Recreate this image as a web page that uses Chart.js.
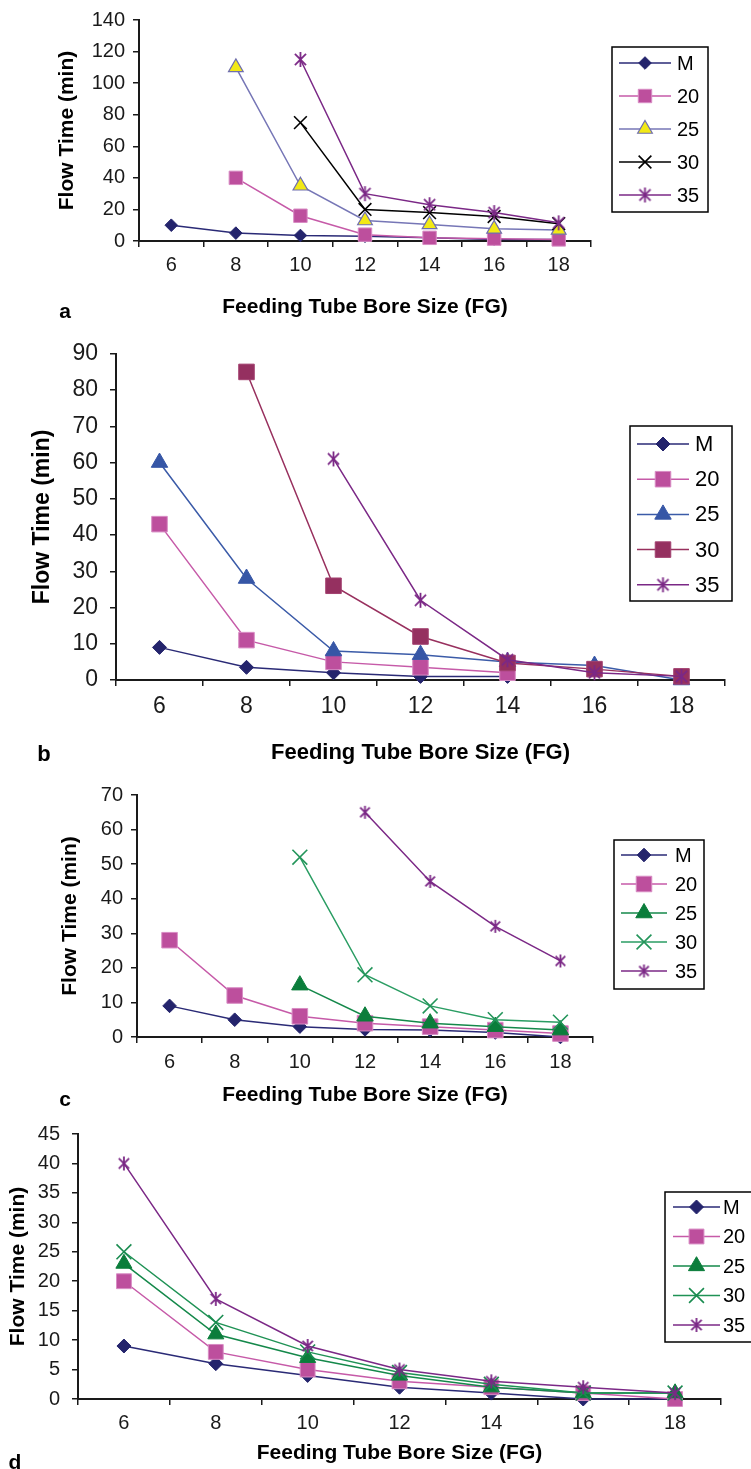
<!DOCTYPE html>
<html>
<head>
<meta charset="utf-8">
<script src="https://cdn.jsdelivr.net/npm/chart.js@4.4.1/dist/chart.umd.min.js"></script>
<style>
  body { margin: 0; background: #fff; }
  #wrap { position: relative; width: 751px; height: 1469px; overflow: hidden; }
  canvas { position: absolute; left: 0; }
</style>
</head>
<body>
<div id="wrap">
  <canvas id="panel-a" width="751" height="328" style="top:0px"></canvas>
  <canvas id="panel-b" width="751" height="447" style="top:328px"></canvas>
  <canvas id="panel-c" width="751" height="335" style="top:775px"></canvas>
  <canvas id="panel-d" width="751" height="359" style="top:1110px"></canvas>
</div>
<script>
// bore sizes on the x axis
const boreSizes = ['6', '8', '10', '12', '14', '16', '18'];
const seriesNames = ['M', '20', '25', '30', '35'];

// panel a
const aM  = [10, 5, 3.5, 3, 2, 1, 1];
const a20 = [null, 40, 16, 4, 2, 1.5, 1];
const a25 = [null, 110, 35, 13, 10.5, 7.7, 7];
const a30 = [null, null, 75, 20, 18, 15.5, 11];
const a35 = [null, null, 115, 30, 23, 18, 11.5];
// panel b
const bM  = [9, 3.5, 2, 1, 1, null, null];
const b20 = [43, 11, 5, 3.5, 2, null, null];
const b25 = [60, 28, 8, 7, 5, 4, 0];
const b30 = [null, 85, 26, 12, 4.7, 3, 1];
const b35 = [null, null, 61, 22, 5.6, 2, 1];
// panel c
const cM  = [9, 5, 3, 2.2, 2, 1.3, 0];
const c20 = [28, 12, 6, 4, 3, 2, 1];
const c25 = [null, null, 15, 6, 4, 3, 2];
const c30 = [null, null, 52, 18, 9, 5, 4.3];
const c35 = [null, null, null, 65, 45, 32, 22];
// panel d
const dM  = [9, 6, 4, 2, 1, 0, 0];
const d20 = [20, 8, 5, 3, 2, 1, 0];
const d25 = [23, 11, 7, 4, 2, 1, 1];
const d30 = [25, 13, 8, 4.5, 2.5, 1, 1];
const d35 = [40, 17, 9, 5, 3, 2, 1];

// y axis ranges (max, step)
const yMaxA = 140, yStepA = 20;
const yMaxB = 90,  yStepB = 10;
const yMaxC = 70,  yStepC = 10;
const yMaxD = 45,  yStepD = 5;

const FONT = "'Liberation Sans', Arial, Helvetica, sans-serif";
const INK = '#1a1a1a';

function starMarker(color, size) {
  const c = document.createElement('canvas');
  c.width = size; c.height = size;
  const g = c.getContext('2d');
  const m = size / 2, r = size / 2 - 1, k = r * 0.74;
  g.strokeStyle = color;
  g.lineWidth = 1.8;
  g.beginPath();
  g.moveTo(m - k, m - k); g.lineTo(m + k, m + k);
  g.moveTo(m + k, m - k); g.lineTo(m - k, m + k);
  g.moveTo(m, m - r); g.lineTo(m, m + r);
  g.stroke();
  return c;
}

// marker / line styles
const navy = (r) => ({ line: '#2a2a76', shape: 'rectRot', r, fill: '#24246c', edge: '#24246c', bw: 1 });
const pink = (r) => ({ line: '#c65aa8', shape: 'rect', r, fill: '#bd4f9d', edge: '#d88cc4', bw: 1 });
const purpleStar = (s) => ({ line: '#7b2886', shape: starMarker('#7b2886', s), r: s / 2, fill: '#7b2886', edge: '#7b2886', bw: 1.5 });

function series(label, data, st, i) {
  return {
    label, data,
    borderColor: st.line,
    borderWidth: 1.5,
    pointStyle: st.shape,
    pointRadius: st.r,
    pointHoverRadius: st.r,
    pointBackgroundColor: st.fill,
    pointBorderColor: st.edge,
    pointBorderWidth: st.bw,
    tension: 0,
    spanGaps: false,
    clip: false,
    order: 10 - i
  };
}

// legend drawn as a framed box with line + marker samples
const boxLegend = {
  id: 'boxLegend',
  afterDraw(chart, args, o) {
    const ctx = chart.ctx;
    ctx.save();
    ctx.strokeStyle = '#000';
    ctx.lineWidth = 1.5;
    ctx.strokeRect(o.x, o.y, o.w, o.h);
    chart.data.datasets.forEach((ds, i) => {
      const y = o.row0 + i * o.gap;
      ctx.strokeStyle = ds.borderColor;
      ctx.lineWidth = ds.borderWidth;
      ctx.beginPath();
      ctx.moveTo(o.x0, y);
      ctx.lineTo(o.x1, y);
      ctx.stroke();
      ctx.fillStyle = ds.pointBackgroundColor;
      ctx.strokeStyle = ds.pointBorderColor;
      ctx.lineWidth = ds.pointBorderWidth;
      Chart.helpers.drawPoint(ctx, {
        pointStyle: ds.pointStyle,
        radius: ds.pointRadius,
        borderWidth: ds.pointBorderWidth,
        rotation: 0
      }, (o.x0 + o.x1) / 2, y);
      ctx.fillStyle = '#000';
      ctx.font = o.font + 'px ' + FONT;
      ctx.textAlign = 'left';
      ctx.textBaseline = 'middle';
      ctx.fillText(ds.label, o.tx, y + 1);
    });
    ctx.restore();
  }
};

const panelTag = {
  id: 'panelTag',
  afterDraw(chart, args, o) {
    const ctx = chart.ctx;
    ctx.save();
    ctx.fillStyle = '#000';
    ctx.font = 'bold ' + o.size + 'px ' + FONT;
    ctx.textAlign = 'center';
    ctx.textBaseline = 'middle';
    ctx.fillText(o.text, o.x, o.y);
    ctx.restore();
  }
};

function makePanel(id, p) {
  const canvas = document.getElementById(id);
  const H = canvas.height, W = canvas.width;
  return new Chart(canvas, {
    type: 'line',
    data: { labels: boreSizes, datasets: p.datasets },
    plugins: [boxLegend, panelTag],
    options: {
      responsive: false,
      animation: false,
      devicePixelRatio: 1,
      layout: { padding: { left: 0, top: p.area.t, right: W - p.area.r, bottom: 0 } },
      plugins: {
        legend: { display: false },
        tooltip: { enabled: false },
        boxLegend: p.legend,
        panelTag: p.tag
      },
      scales: {
        x: {
          type: 'category',
          offset: true,
          grid: { offset: true, drawOnChartArea: false, drawTicks: true, tickLength: 6, color: INK, lineWidth: 1.5 },
          border: { display: true, color: INK, width: 2 },
          ticks: { color: INK, font: { family: FONT, size: p.tickSize }, padding: p.xTickPad, maxRotation: 0 },
          title: {
            display: true, text: 'Feeding Tube Bore Size (FG)', color: '#000',
            font: { family: FONT, size: p.xTitleSize, weight: 'bold' },
            padding: { top: 0, bottom: p.xTitlePad }
          },
          afterFit(s) { s.height = H - p.area.b; }
        },
        y: {
          min: 0, max: p.yMax,
          grid: { drawOnChartArea: false, drawTicks: true, tickLength: 6, color: INK, lineWidth: 1.5 },
          border: { display: true, color: INK, width: 2 },
          ticks: { stepSize: p.yStep, color: INK, font: { family: FONT, size: p.tickSize }, padding: p.yTickPad },
          title: {
            display: true, text: 'Flow Time (min)', color: '#000',
            font: { family: FONT, size: p.yTitleSize, weight: 'bold' },
            padding: { top: p.yTitlePad, bottom: 0 }
          },
          afterFit(s) { s.width = p.area.l; }
        }
      }
    }
  });
}

// panel a
makePanel('panel-a', {
  area: { l: 139, t: 17, r: 591, b: 241 },
  yMax: yMaxA, yStep: yStepA,
  tickSize: 20, xTickPad: 6, yTickPad: 8,
  xTitleSize: 21, xTitlePad: 8.4, yTitleSize: 21, yTitlePad: 54.4,
  tag: { text: 'a', x: 65, y: 312, size: 21 },
  legend: { x: 612, y: 47, w: 96, h: 165, row0: 63, gap: 33, x0: 619, x1: 671, tx: 677, font: 20 },
  datasets: [
    series(seriesNames[0], aM, navy(6.3), 0),
    series(seriesNames[1], a20, pink(9.5), 1),
    series(seriesNames[2], a25, { line: '#7676b6', shape: 'triangle', r: 8.5, fill: '#f2e916', edge: '#6f6faf', bw: 1.2 }, 2),
    series(seriesNames[3], a30, { line: '#000000', shape: 'crossRot', r: 9, fill: '#000', edge: '#000', bw: 1.6 }, 3),
    series(seriesNames[4], a35, purpleStar(17), 4)
  ]
});

// panel b
makePanel('panel-b', {
  area: { l: 116, t: 18, r: 725, b: 352 },
  yMax: yMaxB, yStep: yStepB,
  tickSize: 23, xTickPad: 7, yTickPad: 12,
  xTitleSize: 22, xTitlePad: 8.8, yTitleSize: 23, yTitlePad: 29.2,
  tag: { text: 'b', x: 44, y: 427, size: 22 },
  legend: { x: 630, y: 98, w: 102, h: 175, row0: 116, gap: 35.2, x0: 637, x1: 689, tx: 695, font: 22 },
  datasets: [
    series(seriesNames[0], bM, navy(7), 0),
    series(seriesNames[1], b20, pink(11), 1),
    series(seriesNames[2], b25, { line: '#3b5ba8', shape: 'triangle', r: 9.5, fill: '#3656a6', edge: '#3656a6', bw: 1 }, 2),
    series(seriesNames[3], b30, { line: '#98305e', shape: 'rect', r: 11, fill: '#953060', edge: '#a34270', bw: 1 }, 3),
    series(seriesNames[4], b35, purpleStar(17), 4)
  ]
});

// panel c
makePanel('panel-c', {
  area: { l: 137, t: 14, r: 593, b: 262 },
  yMax: yMaxC, yStep: yStepC,
  tickSize: 20, xTickPad: 7, yTickPad: 8,
  xTitleSize: 21, xTitlePad: 2.4, yTitleSize: 21, yTitlePad: 57.4,
  tag: { text: 'c', x: 65, y: 325, size: 21 },
  legend: { x: 614, y: 65, w: 90, h: 149, row0: 80, gap: 29, x0: 621, x1: 667, tx: 675, font: 20 },
  datasets: [
    series(seriesNames[0], cM, navy(6.8), 0),
    series(seriesNames[1], c20, pink(11), 1),
    series(seriesNames[2], c25, { line: '#14884a', shape: 'triangle', r: 9.5, fill: '#0b7d3b', edge: '#0b7d3b', bw: 1 }, 2),
    series(seriesNames[3], c30, { line: '#2a9d63', shape: 'crossRot', r: 10.5, fill: '#2a9d63', edge: '#23955a', bw: 1.6 }, 3),
    series(seriesNames[4], c35, purpleStar(15), 4)
  ]
});

// panel d
makePanel('panel-d', {
  area: { l: 78, t: 24, r: 721, b: 289 },
  yMax: yMaxD, yStep: yStepD,
  tickSize: 20, xTickPad: 6, yTickPad: 12,
  xTitleSize: 21, xTitlePad: 3.4, yTitleSize: 21, yTitlePad: 5.4,
  tag: { text: 'd', x: 15, y: 353, size: 21 },
  legend: { x: 665, y: 82, w: 100, h: 150, row0: 97, gap: 29.5, x0: 673, x1: 720, tx: 723, font: 20 },
  datasets: [
    series(seriesNames[0], dM, navy(7), 0),
    series(seriesNames[1], d20, pink(10.5), 1),
    series(seriesNames[2], d25, { line: '#14884a', shape: 'triangle', r: 9.3, fill: '#0b7d3b', edge: '#0b7d3b', bw: 1 }, 2),
    series(seriesNames[3], d30, { line: '#1f9255', shape: 'crossRot', r: 10.5, fill: '#1f9255', edge: '#1a8c50', bw: 1.6 }, 3),
    series(seriesNames[4], d35, purpleStar(16), 4)
  ]
});
</script>
</body>
</html>
